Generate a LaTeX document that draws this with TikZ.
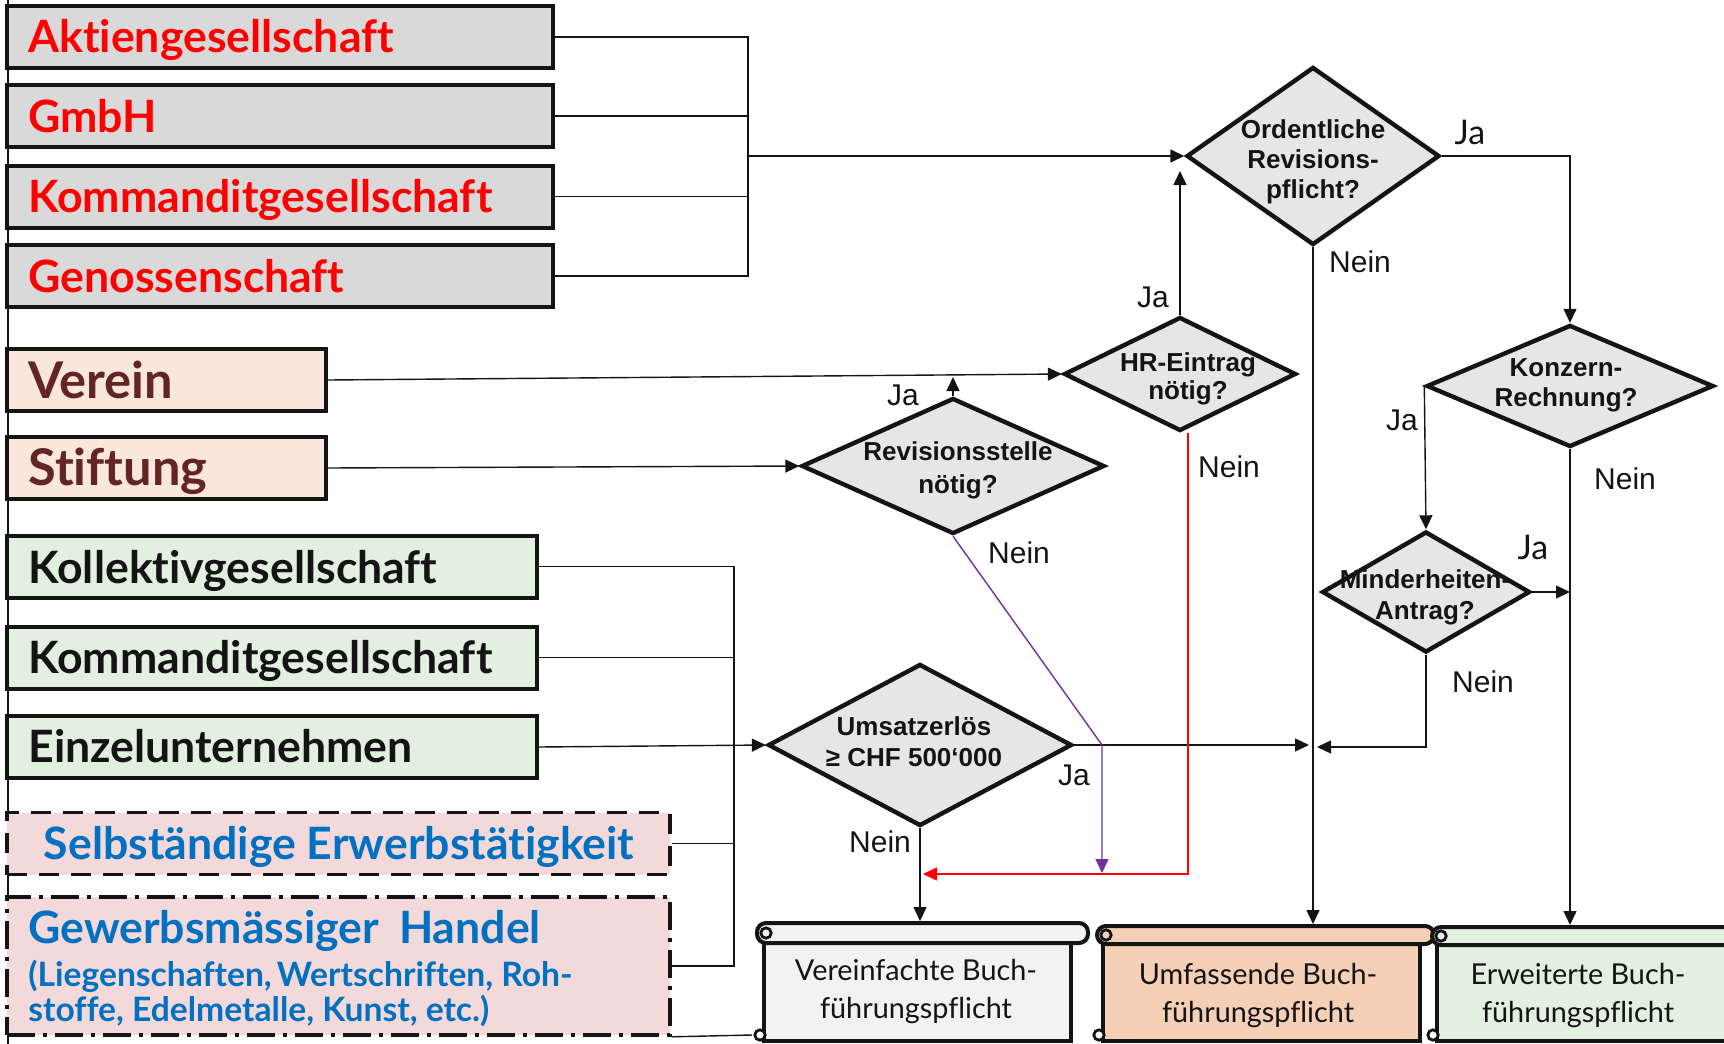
\documentclass[tikz,border=0pt]{standalone}
\usepackage{fontspec}
\setmainfont{Liberation Sans}
\newfontfamily\gill{Lato}[Ligatures=NoCommon]
\usetikzlibrary{arrows.meta,shapes.geometric}
\definecolor{boxgray}{HTML}{D9D9D9}
\definecolor{boxpeach}{HTML}{F9E6DC}
\definecolor{boxgreen}{HTML}{E2F0E0}
\definecolor{boxpink}{HTML}{F4D9DA}
\definecolor{txtred}{HTML}{FF0000}
\definecolor{txtbrown}{HTML}{632523}
\definecolor{txtblue}{HTML}{0070C0}
\definecolor{dia}{HTML}{E6E6E6}
\definecolor{scA}{HTML}{F2F2F2}
\definecolor{scB}{HTML}{F5CFB6}
\definecolor{scC}{HTML}{E2F0E0}
\definecolor{purp}{HTML}{7030A0}
\definecolor{ink}{HTML}{141414}
\newcommand{\myscroll}[7]{%
  \filldraw[fill=#7, line width=2pt, draw=ink] (#5,#4) -- (#5,1041) -- (#6,1041) -- (#6,#4);
  \filldraw[fill=#7, line width=2pt, draw=ink, rounded corners=4.5pt] (#1,#3) rectangle (#2,#4);
  \draw[line width=1.4pt, draw=ink, fill=#7] (#1+9,{(#3+#4)/2}) circle (2.6pt);
  \draw[line width=1.4pt, draw=ink, fill=white] (#5-4,1035) circle (2.6pt);
}
\begin{document}
\begin{tikzpicture}[x=0.5pt,y=-0.5pt,
  arr/.style={-{Triangle[length=7pt,width=6.5pt]}},
  conn/.style={line width=0.7pt, draw=ink},
  bx/.style={draw=ink, line width=2pt, inner sep=0pt, minimum height=31pt},
  btxt/.style={anchor=base west, inner sep=0pt, font=\gill\bfseries\fontsize{22.3}{25}\selectfont},
  vtxt/.style={anchor=base west, inner sep=0pt, font=\gill\bfseries\fontsize{25.3}{28}\selectfont, text=txtbrown},
  dmd/.style={diamond, draw=ink, line width=2.2pt, fill=dia, inner sep=0pt},
  dtxt/.style={font=\bfseries\fontsize{13}{15}\selectfont, align=center, text=ink, inner sep=0pt},
  lbl/.style={font=\fontsize{15}{18}\selectfont, text=ink, inner sep=0pt},
  glbl/.style={font=\gill\fontsize{17}{19}\selectfont, text=ink, inner sep=0pt},
  stxt/.style={font=\gill\fontsize{14.4}{19}\selectfont, align=center, text=ink, inner sep=0pt},
]
\clip (0,0) rectangle (1724,1044);
\useasboundingbox (0,0) rectangle (1724,1044);

% frame line
\draw[line width=0.6pt, draw=ink] (8,0) -- (8,1044);

% left boxes
\node[bx, fill=boxgray, minimum width=273pt] (akt) at (280,37) {};
\node[bx, fill=boxgray, minimum width=273pt] (gmbh) at (280,116) {};
\node[bx, fill=boxgray, minimum width=273pt] (komm) at (280,196.5) {};
\node[bx, fill=boxgray, minimum width=273pt] (gen) at (280,276) {};
\node[bx, fill=boxpeach, minimum width=159.5pt] (verein) at (166.5,380) {};
\node[bx, fill=boxpeach, minimum width=159.5pt] (stift) at (166.5,468) {};
\node[bx, fill=boxgreen, minimum width=265pt] (koll) at (272,566.5) {};
\node[bx, fill=boxgreen, minimum width=265pt] (komm2) at (272,657.5) {};
\node[bx, fill=boxgreen, minimum width=265pt] (einz) at (272,747) {};
\node[bx, fill=boxpink, minimum width=331.5pt, dash pattern=on 10pt off 6pt, line width=1.8pt] (selb) at (338.5,843.5) {};
\node[bx, fill=boxpink, minimum width=331.5pt, minimum height=69pt, dash pattern=on 14pt off 4pt on 2pt off 4pt, line width=1.8pt] (gew) at (338.5,966) {};

\node[btxt, text=txtred] (aktT) at (28,53) {Aktiengesellschaft};
\node[btxt, text=txtred] (gmbhT) at (28,132) {GmbH};
\node[btxt, text=txtred] (kommT) at (28,212) {Kommanditgesellschaft};
\node[btxt, text=txtred] (genT) at (28,292) {Genossenschaft};
\node[vtxt] (vereinT) at (28,398) {Verein};
\node[vtxt] (stiftT) at (28,485) {Stiftung};
\node[btxt, text=ink] (kollT) at (28,583) {Kollektivgesellschaft};
\node[btxt, text=ink] (komm2T) at (28,673) {Kommanditgesellschaft};
\node[btxt, text=ink] (einzT) at (28,762) {Einzelunternehmen};
\node[btxt, text=txtblue, anchor=base] (selbT) at (339,859) {Selbständige Erwerbstätigkeit};
\node[btxt, text=txtblue] (gew1) at (28,943) {Gewerbsmässiger\hspace{0.45em}Handel};
\node[btxt, text=txtblue, font=\gill\bfseries\fontsize{16.8}{19}\selectfont] (gew2) at (28,986) {(Liegenschaften,\hspace{0.15em}Wertschriften, Roh-};
\node[btxt, text=txtblue, font=\gill\bfseries\fontsize{16.8}{19}\selectfont] (gew3) at (28,1021) {stoffe, Edelmetalle, Kunst, etc.)};

% scrolls
\myscroll{757}{1088}{923}{943}{764}{1071}{scA}
\myscroll{1097}{1434}{926}{944}{1103}{1420}{scB}
\myscroll{1432}{1770}{927}{945}{1437}{1770}{scC}
\node[stxt] (s1t) at (916,992) {Vereinfachte Buch-\\führungspflicht};
\node[stxt] (s2t) at (1258,996) {Umfassende Buch-\\führungspflicht};
\node[stxt] (s3t) at (1578,996) {Erweiterte Buch-\\führungspflicht};
\coordinate (s1top) at (920,921);
\coordinate (s2top) at (1313,924);
\coordinate (s3top) at (1570,925);
\coordinate (s1bl) at (752,1035);

% diamonds
\node[dmd, minimum width=126.5pt, minimum height=89pt] (ord) at (1313,156) {};
\node[dmd, minimum width=116pt, minimum height=57pt] (hr) at (1180,374) {};
\node[dmd, minimum width=151.5pt, minimum height=68pt] (rev) at (953,466) {};
\node[dmd, minimum width=152pt, minimum height=81pt] (ums) at (920,745) {};
\node[dmd, minimum width=143.5pt, minimum height=61pt] (konz) at (1570,386) {};
\node[dmd, minimum width=104pt, minimum height=60.5pt] (mind) at (1426,592) {};
\node[dtxt] (ordt) at (1313,162) {Ordentliche\\Revisions-\\pflicht?};
\node[dtxt, font=\bfseries\fontsize{13}{14}\selectfont] (hrt) at (1188,379) {HR-Eintrag\\nötig?};
\node[dtxt, font=\bfseries\fontsize{13}{16.5}\selectfont] (revt) at (958,470) {Revisionsstelle\\nötig?};
\node[dtxt, font=\bfseries\fontsize{13}{15.5}\selectfont] (umst) at (914,742) {Umsatzerlös\\≥ CHF 500‘000};
\node[dtxt] (konzt) at (1566,385) {Konzern-\\Rechnung?};
\node[dtxt, font=\bfseries\fontsize{13}{15.5}\selectfont] (mindt) at (1425,597) {Minderheiten-\\Antrag?};

% connectors: top group
\coordinate (j1) at (748,156);
\draw[conn] (akt.east) -| (j1);
\draw[conn] (gmbh.east) -| (j1);
\draw[conn] (komm.east) -| (j1);
\draw[conn] (gen.east) -| (j1);
\draw[conn,arr] (j1) -- (ord.west);

\draw[conn,arr] (verein.east) -- (hr.west);
\draw[conn,arr] (stift.east) -- (rev.west);
\coordinate (revup) at (953,377);
\draw[conn,arr] (rev.north) -- (revup);
\coordinate (ordin) at (1180,171);
\draw[conn,arr] (hr.north) -- (ordin);
\draw[conn,arr] (ord.east) -| (konz.north);
\draw[conn,arr] (ord.south) -- (s2top);
\draw[conn,arr] (konz.south) -- (s3top);
\draw[conn,arr] (konz.west) -- (mind.north);
\draw[conn,arr] (mind.east) -- (konz.south |- mind.east);
\coordinate (mtip) at (1317,747);
\draw[conn,arr] (mind.south) |- (mtip);
\coordinate (utip) at (1309,745);
\draw[conn,arr] (ums.east) -- (utip);
\draw[conn,arr] (ums.south) -- (s1top);

% lower group
\coordinate (j2top) at (734,566.5);
\coordinate (j2bot) at (734,966);
\draw[conn] (koll.east) -- (j2top) -- (j2bot) -- (gew.east);
\draw[conn] (komm2.east) -- (komm2.east -| j2top);
\draw[conn] (selb.east) -- (selb.east -| j2top);
\draw[conn,arr] (einz.east) -- (ums.west);
\draw[conn] (gew.south east) -- (s1bl);

% coloured paths
\coordinate (pk) at (1102,745);
\coordinate (ptip) at (1102,873);
\draw[line width=0.7pt, draw=purp, arr] (rev.south) -- (pk) -- (ptip);
\coordinate (rk) at (1188,874);
\coordinate (rtip) at (923,874);
\draw[line width=0.7pt, draw=red, arr] (hr.south -| rk) -- (rk) -- (rtip);

% labels
\node[lbl] (l1) at (1153,297) {Ja};
\node[glbl] (l2) at (1470,132) {Ja};
\node[lbl] (l3) at (1360,262) {Nein};
\node[lbl] (l4) at (903,395) {Ja};
\node[lbl] (l5) at (1019,553) {Nein};
\node[lbl] (l6) at (1229,467) {Nein};
\node[lbl] (l7) at (1402,420) {Ja};
\node[lbl] (l8) at (1625,479) {Nein};
\node[glbl] (l9) at (1533,547) {Ja};
\node[lbl] (l10) at (1483,682) {Nein};
\node[lbl] (l11) at (1074,775) {Ja};
\node[lbl] (l12) at (880,842) {Nein};
\end{tikzpicture}
\end{document}
